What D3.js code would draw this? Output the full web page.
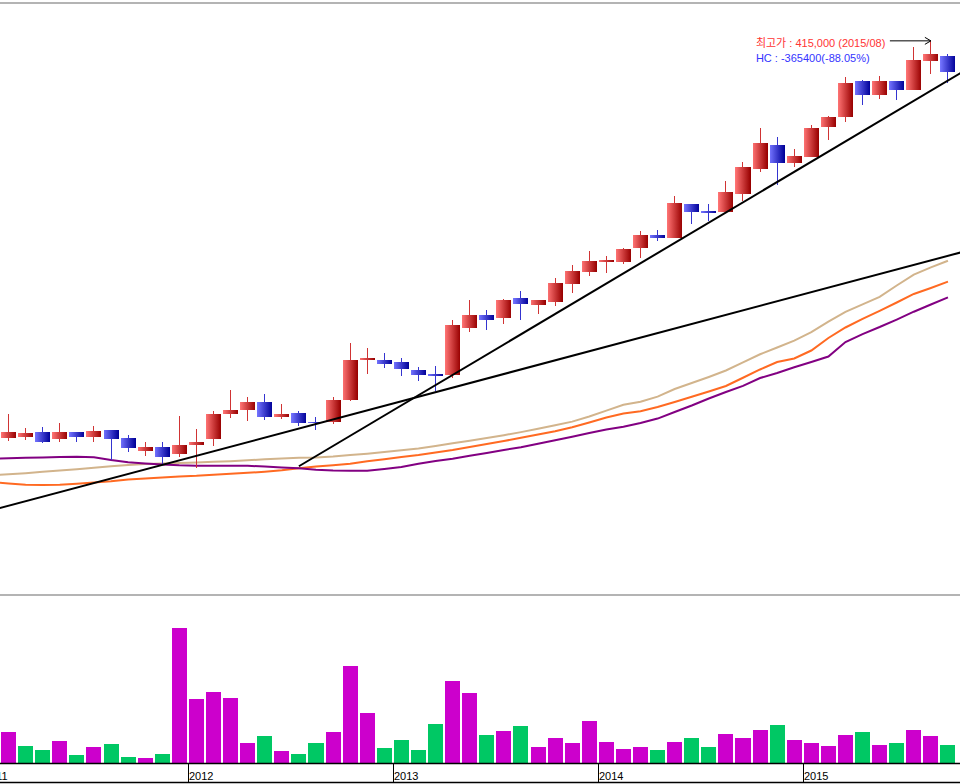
<!DOCTYPE html>
<html>
<head>
<meta charset="utf-8">
<script src="https://cdn.jsdelivr.net/npm/d3@7"></script>
<style>
  body { margin: 0; background: #fff; }
  text { font-family: "Liberation Sans", Arial, "Noto Sans CJK KR", sans-serif; }
</style>
</head>
<body>
<script>
// monthly candles, Feb 2011 .. Sep 2015
const candle_first = new Date(2011, 1, 1);
const candle_end = new Date(2015, 9, 1);
// moving averages start one month earlier (Jan 2011, just off the left edge)
const ma_first = new Date(2011, 0, 1);

const open = [75500, 76400, 80400, 74700, 80400, 76400, 82100, 75300, 64400, 67600,
  61800, 69500, 74400, 96100, 99500, 106100, 93500, 96700, 89000, 89200,
  107800, 142000, 142000, 140300, 133400, 130000, 129200, 169400, 180500, 177900,
  195000, 189000, 191600, 207000, 217300, 225800, 225800, 237800, 248900, 246400,
  275400, 269400, 268600, 284000, 305400, 325900, 310500, 315600, 341300, 349900,
  380600, 368700, 380600, 372900, 397800, 402000];

const high = [95800, 83800, 84700, 88100, 80400, 85500, 82100, 77800, 71900, 71900,
  94100, 83000, 98400, 116300, 110300, 112900, 104400, 98400, 93200, 110300,
  156500, 152300, 148000, 143700, 136000, 136900, 176200, 193300, 184800, 194200,
  201000, 193300, 212100, 223300, 235200, 231000, 237800, 252300, 253200, 282300,
  275400, 275400, 295100, 311400, 340400, 332700, 322500, 343000, 350700, 384100,
  381500, 384900, 380600, 409700, 415000, 403700];

const low = [73000, 73800, 71000, 71900, 71900, 71900, 56500, 63300, 59900, 53000,
  59000, 49600, 68400, 92400, 89800, 90700, 91500, 85500, 82100, 87200,
  106900, 130000, 135100, 128300, 124000, 115500, 126600, 165900, 167700, 172800,
  176200, 181300, 188200, 199300, 213900, 216400, 224100, 229200, 243800, 246400,
  258300, 260900, 268600, 278000, 302800, 291700, 307100, 315600, 330200, 345600,
  360100, 365300, 364400, 372900, 386600, 378900];

const close = [80400, 79600, 71900, 80400, 76400, 81300, 74700, 67000, 67600, 59000,
  69300, 71900, 95800, 99200, 106100, 93500, 95800, 88100, 87800, 107800,
  142000, 143700, 138600, 134300, 129200, 129200, 171900, 180500, 176200, 193300,
  189900, 193300, 207900, 218100, 226700, 227500, 236900, 248900, 246400, 276300,
  268600, 268600, 285700, 307100, 327600, 310500, 316500, 340400, 349900, 378900,
  368700, 380600, 372900, 398600, 403700, 388300];

// close of Jan 2011 (off screen), used for the colour of the first volume bar
const prev_close = 76000;

const volume = [620000, 340000, 260000, 440000, 160000, 320000, 380000, 120000, 100000, 180000,
  2700000, 1280000, 1420000, 1300000, 400000, 540000, 240000, 180000, 400000, 620000,
  1940000, 1000000, 300000, 460000, 260000, 780000, 1640000, 1400000, 560000, 640000,
  740000, 320000, 500000, 400000, 840000, 420000, 280000, 320000, 260000, 420000,
  500000, 320000, 580000, 500000, 660000, 760000, 460000, 400000, 340000, 560000,
  620000, 360000, 400000, 660000, 540000, 360000];

const ma_short = [43500, 44300, 45200, 46400, 47500, 48500, 49800, 51100, 52200, 53000,
  53500, 53900, 54400, 54900, 55400, 56200, 57100, 57700, 58300, 58700,
  59500, 60700, 61900, 63300, 64800, 66300, 68400, 70700, 73000, 75300,
  77700, 80300, 83100, 86100, 89300, 93700, 98700, 103700, 106300, 110700,
  117200, 122300, 127500, 133000, 139900, 146900, 152700, 158500, 165900, 174900,
  183200, 189600, 196000, 205700, 215000, 221200, 226900];

const ma_mid = [37600, 36400, 35300, 35100, 35200, 36100, 37200, 38300, 39800, 40700,
  41400, 42300, 42900, 43900, 44700, 45500, 46400, 47600, 49400, 50900,
  52000, 53300, 55400, 57100, 59000, 60700, 62900, 65000, 67600, 70100,
  72700, 75400, 78300, 81100, 84400, 88500, 92800, 96200, 98100, 101800,
  106100, 110500, 115100, 119800, 126800, 133900, 140300, 143300, 150100, 160800,
  169800, 177100, 184100, 191200, 198500, 203600, 209000];

const ma_long = [57300, 58000, 58400, 58700, 59100, 59300, 58900, 56500, 54500, 53500,
  52600, 51900, 51600, 51600, 51600, 51500, 50900, 50000, 49400, 48100,
  47400, 47200, 47200, 48800, 50500, 53200, 55600, 57600, 60000, 62400,
  65000, 67300, 70400, 73400, 76400, 79600, 82500, 84900, 88100, 91900,
  97500, 103100, 109100, 114600, 119900, 126600, 130900, 135800, 140300, 145000,
  157400, 164200, 170200, 176600, 183300, 189500, 195600];

// hand drawn trend lines (month, price) -> (month, price)
const trend_lines = [
  {from: '2011-01', from_price: 13400, to: '2015-09', to_price: 231100, both_ways: true},
  {from: '2012-07', from_price: 51100, to: '2015-09', to_price: 381100, both_ways: false}
];

const year_ticks = [2011, 2012, 2013, 2014, 2015];

const W = 960, H = 784;
const up_color = '#cc00cc';
const down_color = '#00c864';
const key = d3.timeFormat('%Y-%m');

const candle_months = d3.timeMonth.range(candle_first, candle_end);
const ma_months = d3.timeMonth.range(ma_first, candle_end);

const candles = candle_months.map((m, i) => ({
  month: key(m), open: open[i], high: high[i], low: low[i], close: close[i],
  volume: volume[i], up_vol: close[i] > (i == 0 ? prev_close : close[i - 1])
}));

const x = d3.scaleBand()
  .domain(ma_months.map(key))
  .range([-17.08, 956.5])
  .paddingInner(0.12)
  .paddingOuter(0.06);
const cx = (k) => x(k) + x.bandwidth() / 2;

const y = d3.scaleLinear().domain([0, 420000]).range([526, 35]);
const y_vol = d3.scaleLinear().domain([0, 3400000]).range([763, 593]);

const svg = d3.select('body').append('svg')
  .attr('width', W)
  .attr('height', H);

const defs = svg.append('defs');
function grad(id, c1, c2) {
  const g = defs.append('linearGradient').attr('id', id)
    .attr('x1', 0).attr('x2', 1).attr('y1', 0).attr('y2', 0);
  g.append('stop').attr('offset', 0).attr('stop-color', c1);
  g.append('stop').attr('offset', 1).attr('stop-color', c2);
}
grad('red_grad', '#ff7474', '#980000');
grad('blue_grad', '#7474ff', '#000098');

defs.append('clipPath').attr('id', 'price_clip')
  .append('rect').attr('x', 0).attr('y', 4).attr('width', W).attr('height', 590);

// panel borders
svg.append('line').attr('x1', 0).attr('x2', W).attr('y1', 3).attr('y2', 3)
  .attr('stroke', '#b4b4b4').attr('stroke-width', 2);
svg.append('line').attr('x1', 0).attr('x2', W).attr('y1', 595).attr('y2', 595)
  .attr('stroke', '#b4b4b4').attr('stroke-width', 2);

const price = svg.append('g').attr('clip-path', 'url(#price_clip)');

// moving averages
const ma_line = d3.line()
  .x((d, i) => cx(key(ma_months[i])))
  .y((d) => y(d));
[[ma_short, '#d2b48c'], [ma_mid, '#ff6a22'], [ma_long, '#820082']].forEach(([vals, col]) => {
  price.append('path')
    .attr('d', ma_line(vals))
    .attr('fill', 'none')
    .attr('stroke', col)
    .attr('stroke-width', 2);
});

// candles
const cg = price.selectAll('.candle')
  .data(candles)
  .enter()
  .append('g')
    .attr('class', 'candle');

cg.append('line')
  .attr('x1', (d) => Math.floor(cx(d.month)) + 0.5)
  .attr('x2', (d) => Math.floor(cx(d.month)) + 0.5)
  .attr('y1', (d) => y(d.high))
  .attr('y2', (d) => y(d.low))
  .attr('stroke', (d) => d.close >= d.open ? '#d03434' : '#3434d0')
  .attr('stroke-width', 1)
  .attr('shape-rendering', 'crispEdges');

cg.append('rect')
  .attr('x', (d) => x(d.month))
  .attr('width', x.bandwidth())
  .attr('y', (d) => y(Math.max(d.open, d.close)))
  .attr('height', (d) => Math.max(1.5, Math.abs(y(d.open) - y(d.close))))
  .attr('fill', (d) => d.close >= d.open ? 'url(#red_grad)' : 'url(#blue_grad)')
  .attr('shape-rendering', 'crispEdges');

// trend lines, extended to the panel edges
trend_lines.forEach((t) => {
  const x1 = cx(t.from), y1 = y(t.from_price);
  const x2 = cx(t.to), y2 = y(t.to_price);
  const slope = (y2 - y1) / (x2 - x1);
  const xs = t.both_ways ? -20 : x1;
  const xe = W + 20;
  price.append('line')
    .attr('x1', xs).attr('y1', y1 + slope * (xs - x1))
    .attr('x2', xe).attr('y2', y1 + slope * (xe - x1))
    .attr('stroke', '#000')
    .attr('stroke-width', 2);
});

// highest high annotation
const hi_idx = d3.maxIndex(candles, (d) => d.high);
const hi = candles[hi_idx];
const lo = d3.min(candles, (d) => d.low);
const hc = lo - hi.high;
const ax = cx(hi.month), ay = y(hi.high);
const lx = ax - 175;

svg.append('text')
  .attr('x', lx).attr('y', ay + 6.5)
  .attr('font-size', 11)
  .attr('fill', '#ff3434')
  .text('최고가 : ' + d3.format(',')(hi.high) + ' (' + hi.month.replace('-', '/') + ')');
svg.append('text')
  .attr('x', lx).attr('y', ay + 21)
  .attr('font-size', 11)
  .attr('fill', '#3434ff')
  .text('HC : ' + hc + '(' + (hc / hi.high * 100).toFixed(2) + '%)');

svg.append('line')
  .attr('x1', ax - 41).attr('x2', ax)
  .attr('y1', ay).attr('y2', ay)
  .attr('stroke', '#000').attr('stroke-width', 1);
svg.append('path')
  .attr('d', `M${ax - 6},${ay - 3.5}L${ax},${ay}L${ax - 6},${ay + 3.5}`)
  .attr('fill', 'none').attr('stroke', '#000').attr('stroke-width', 1);

// volume
svg.selectAll('.vol')
  .data(candles)
  .enter()
  .append('rect')
    .attr('class', 'vol')
    .attr('x', (d) => x(d.month))
    .attr('width', x.bandwidth())
    .attr('y', (d) => y_vol(d.volume))
    .attr('height', (d) => y_vol(0) - y_vol(d.volume))
    .attr('fill', (d) => d.up_vol ? up_color : down_color)
    .attr('shape-rendering', 'crispEdges');

// time axis
const axis = svg.append('g');
axis.append('line').attr('x1', 0).attr('x2', W).attr('y1', 763.5).attr('y2', 763.5)
  .attr('stroke', '#000').attr('stroke-width', 1.5);
axis.append('line').attr('x1', 0).attr('x2', W).attr('y1', 782.5).attr('y2', 782.5)
  .attr('stroke', '#000').attr('stroke-width', 1.5);

const tick_x = (yr) => Math.round(x(yr + '-01') - x.step() * x.paddingInner() / 2) + 0.5;
const ticks = axis.selectAll('.tick')
  .data(year_ticks)
  .enter()
  .append('g')
    .attr('class', 'tick')
    .attr('transform', (d) => 'translate(' + tick_x(d) + ',0)');
ticks.append('line')
  .attr('y1', 763).attr('y2', 783)
  .attr('stroke', '#000').attr('stroke-width', 1);
ticks.append('text')
  .attr('x', 0.5).attr('y', 780)
  .attr('font-size', 11)
  .attr('fill', '#000')
  .text((d) => d);
</script>
</body>
</html>
